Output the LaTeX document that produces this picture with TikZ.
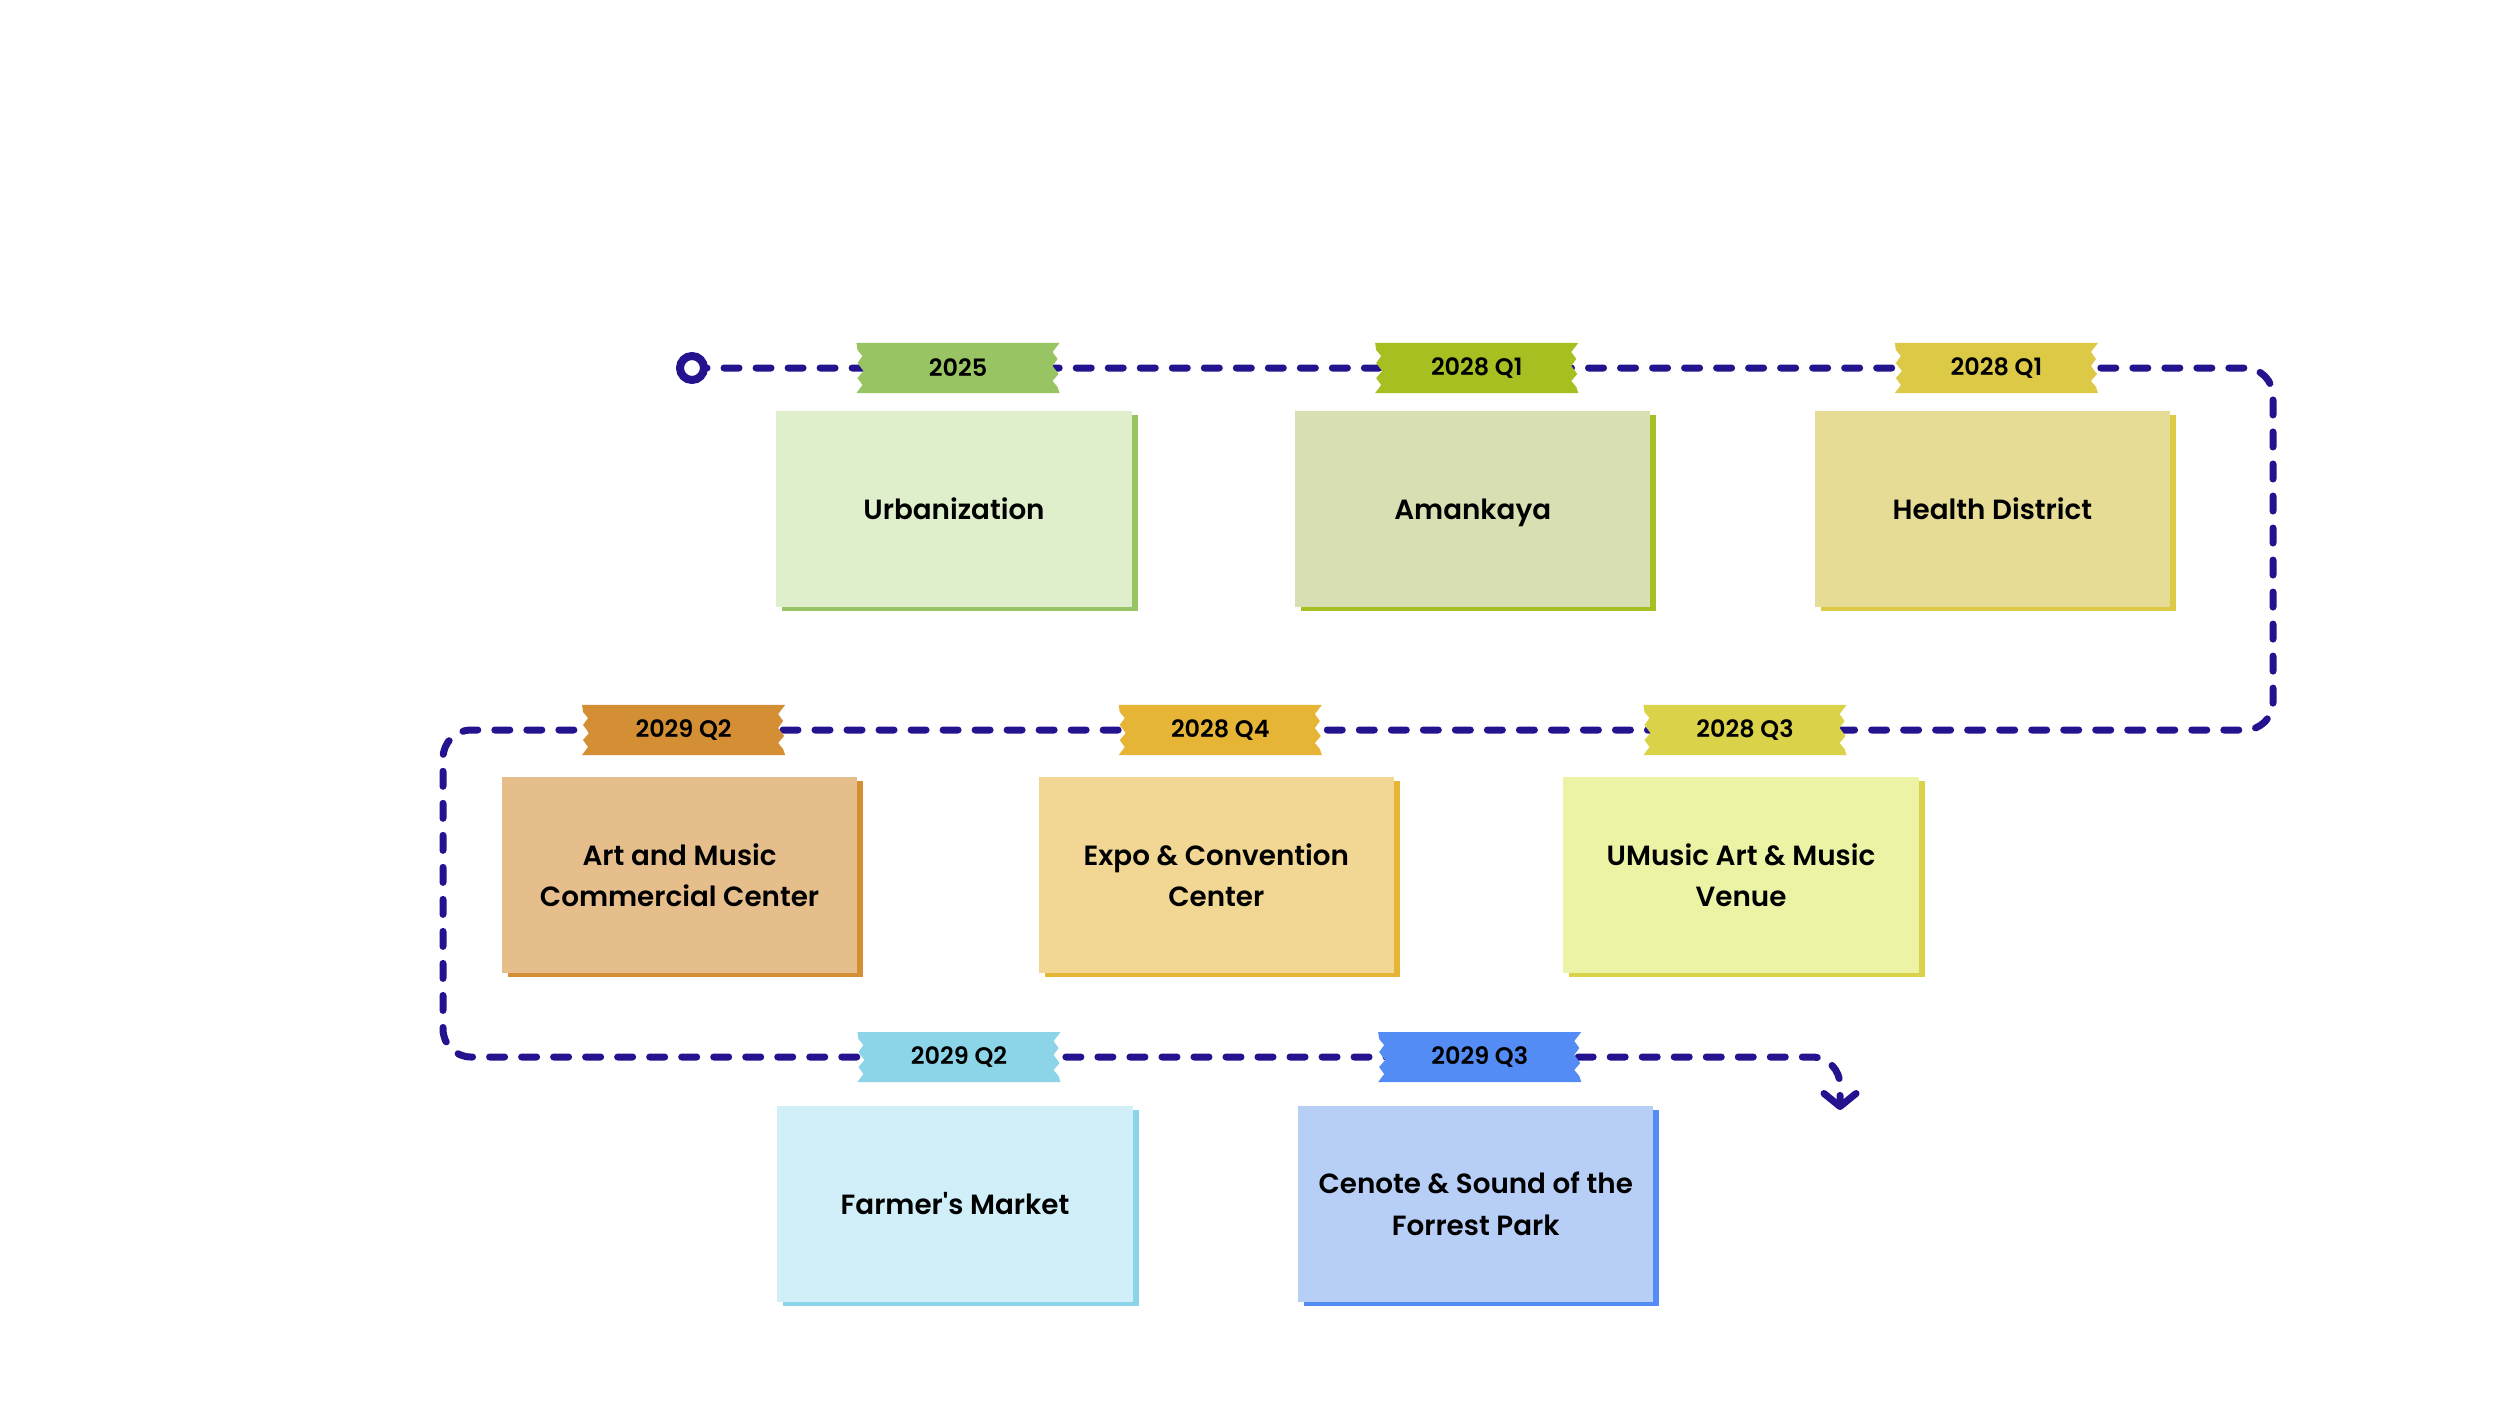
\documentclass[tikz,border=0pt]{standalone}
\usepackage{fontspec}
\setmainfont{Poppins}[BoldFont={Poppins SemiBold}]
\usepackage{tikz}
\usetikzlibrary{arrows.meta,positioning,shadows,backgrounds}

\definecolor{routeblue}{HTML}{23138F}
\definecolor{tapeA}{HTML}{98C463}
\definecolor{noteA}{HTML}{E0EFCB}
\definecolor{tapeB}{HTML}{A8BF22}
\definecolor{noteB}{HTML}{D8DFB2}
\definecolor{tapeC}{HTML}{DCC946}
\definecolor{noteC}{HTML}{E6DC95}
\definecolor{tapeD}{HTML}{D48F35}
\definecolor{noteD}{HTML}{E5BE8C}
\definecolor{tapeE}{HTML}{E7B535}
\definecolor{noteE}{HTML}{F1D793}
\definecolor{tapeF}{HTML}{DAD248}
\definecolor{noteF}{HTML}{EDF3A5}
\definecolor{tapeG}{HTML}{8CD5E8}
\definecolor{noteG}{HTML}{D0EFF8}
\definecolor{tapeH}{HTML}{528CF4}
\definecolor{noteH}{HTML}{B7CEF7}

\begin{document}
\begin{tikzpicture}[x=0.01cm,y=-0.01cm,
    tag/.style={minimum width=2.03cm, minimum height=0.5cm, inner sep=0,
        font=\fontsize{6.8}{7}\selectfont\bfseries,
        path picture={\fill[#1] (path picture bounding box.north west)
            -- (path picture bounding box.north east)
            -- ++(-7,9) -- ++(5,7) -- ++(-5,7) -- ++(6,8) -- ++(-6,7) -- ++(5,6)
            -- (path picture bounding box.south east)
            -- (path picture bounding box.south west)
            -- ++(6,-8) -- ++(-5,-7) -- ++(6,-7) -- ++(-6,-8) -- ++(5,-7) -- ++(-5,-6)
            -- cycle;}},
    note/.style 2 args={fill=#1, minimum width=3.55cm, minimum height=1.95cm,
        align=center, font=\fontsize{7.9}{11.8}\selectfont\bfseries, xshift=-0.04cm,
        drop shadow={shadow xshift=0.06cm, shadow yshift=-0.04cm, fill=#2, opacity=1}},
    timeline/.style={draw=routeblue, line width=0.07cm, line cap=round,
        dash pattern=on 0.15cm off 0.17cm, rounded corners=0.28cm}]

\useasboundingbox (0,0) rectangle (2500,1406);

% Start marker
\node[circle,
    draw=routeblue,
    fill=white,
    line width=0.08cm,
    minimum size=0.24cm,
    inner sep=0] (start) at (692,368) {};

% First row tags
\node[tag=tapeA] (tag1) at (958,368) {2025};
\node[tag=tapeB, right=3.14cm of tag1] (tag2) {2028 Q1};
\node[tag=tapeC, right=3.15cm of tag2] (tag3) {2028 Q1};

% First row notes
\node[note={noteA}{tapeA}, below=0.17cm of tag1] (note1) {Urbanization};
\node[note={noteB}{tapeB}, below=0.17cm of tag2] (note2) {Amanka\smash{y}a};
\node[note={noteC}{tapeC}, below=0.17cm of tag3] (note3) {Health District};

% Second row tags
\node[tag=tapeF] (tag6) at (1745,730) {2028 Q3};
\node[tag=tapeE, left=3.20cm of tag6] (tag5) {2028 Q4};
\node[tag=tapeD, left=3.32cm of tag5] (tag4) {2029 Q2};

% Second row notes
\node[note={noteD}{tapeD}, below=0.21cm of tag4] (note4) {Art and Music\\Commercial Center};
\node[note={noteE}{tapeE}, below=0.21cm of tag5] (note5) {Expo \& Convention\\Center};
\node[note={noteF}{tapeF}, below=0.21cm of tag6] (note6) {UMusic Art \& Music\\Venue};

% Third row tags
\node[tag=tapeG] (tag7) at (959,1057) {2029 Q2};
\node[tag=tapeH, right=3.16cm of tag7] (tag8) {2029 Q3};

% Third row notes
\node[note={noteG}{tapeG}, below=0.23cm of tag7] (note7) {Farmer\textquotesingle s Market};
\node[note={noteH}{tapeH}, below=0.23cm of tag8] (note8) {Cenote \& Sound of the\\Forrest Park};

% Turning points
\coordinate (turn1) at (2273,368);
\coordinate (turn2) at (443,730);
\coordinate (finish) at (1840,1110);

% Route
\begin{scope}[on background layer]
\draw[timeline, -{Straight Barb[length=0.13cm,width=0.32cm,round]}]
    (start.center) -- (tag1.center) -- (tag2.center) -- (tag3.center)
    -- (turn1) |- (tag6.center) -- (tag5.center) -- (tag4.center)
    -- (turn2) |- (tag7.center) -- (tag8.center) -| (finish);
\end{scope}

\end{tikzpicture}
\end{document}
